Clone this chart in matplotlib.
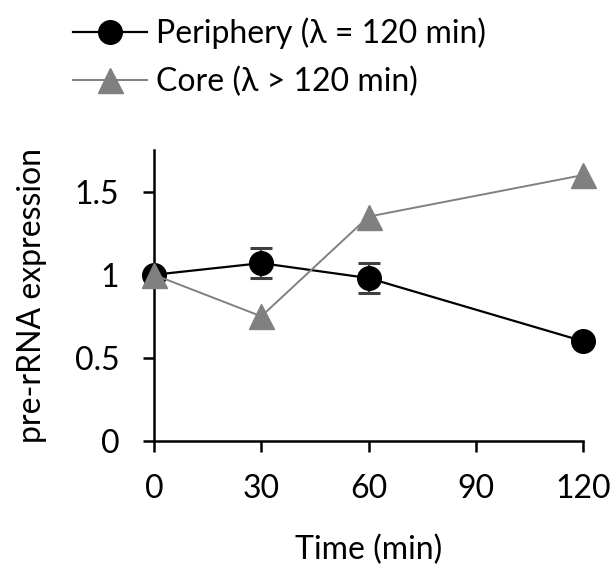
import matplotlib.pyplot as plt
from matplotlib.lines import Line2D

# time points (min) and pre-rRNA expression
time = [0, 30, 60, 120]
periphery = [1.0, 1.07, 0.98, 0.60]
periphery_err = [0.0, 0.09, 0.09, 0.0]
core = [1.0, 0.75, 1.35, 1.60]
labels = ['Periphery (λ = 120 min)', 'Core (λ > 120 min)']

plt.rcParams['font.family'] = ['Lato', 'DejaVu Sans']

fig = plt.figure(figsize=(6.15, 5.75), dpi=100)
ax = fig.add_axes([0.2504, 0.233, 0.698, 0.506])

eb = ax.errorbar(time, periphery, yerr=periphery_err, color='black', ecolor='#404040',
                 lw=1.6, elinewidth=1.6, capsize=8, capthick=2.2, marker='o', ms=17,
                 zorder=3)
for a in eb.lines[0:1] + tuple(eb.lines[1]) + tuple(eb.lines[2]):
    a.set_clip_on(False)
ax.plot(time, core, color='#808080', lw=1.4, marker='^', ms=18, zorder=4,
        clip_on=False)

ax.set_xlim(0, 120)
ax.set_ylim(0, 1.75)
ax.set_xticks([0, 30, 60, 90, 120])
ax.set_yticks([0, 0.5, 1, 1.5])
ax.set_yticklabels(['0', '0.5', '1', '1.5'])
ax.spines['top'].set_visible(False)
ax.spines['right'].set_visible(False)
for s in ['left', 'bottom']:
    ax.spines[s].set_linewidth(1.8)
ax.tick_params(axis='both', direction='out', length=8, width=1.8, labelsize=23)
ax.tick_params(axis='y', pad=17)
ax.tick_params(axis='x', pad=16)
ax.set_xlabel('Time (min)', fontsize=23, labelpad=22)
ax.set_ylabel('pre-rRNA expression', fontsize=23, labelpad=20)

h1 = Line2D([], [], color='black', lw=1.6, marker='o', ms=17)
h2 = Line2D([], [], color='#808080', lw=1.4, marker='^', ms=18)
fig.legend([h1, h2], labels, loc='upper left', bbox_to_anchor=(0.088, 1.003),
           frameon=False, fontsize=23, handlelength=2.3, handletextpad=0.3,
           labelspacing=0.55, borderaxespad=0.2)

fig.savefig('out.png', dpi=100)
